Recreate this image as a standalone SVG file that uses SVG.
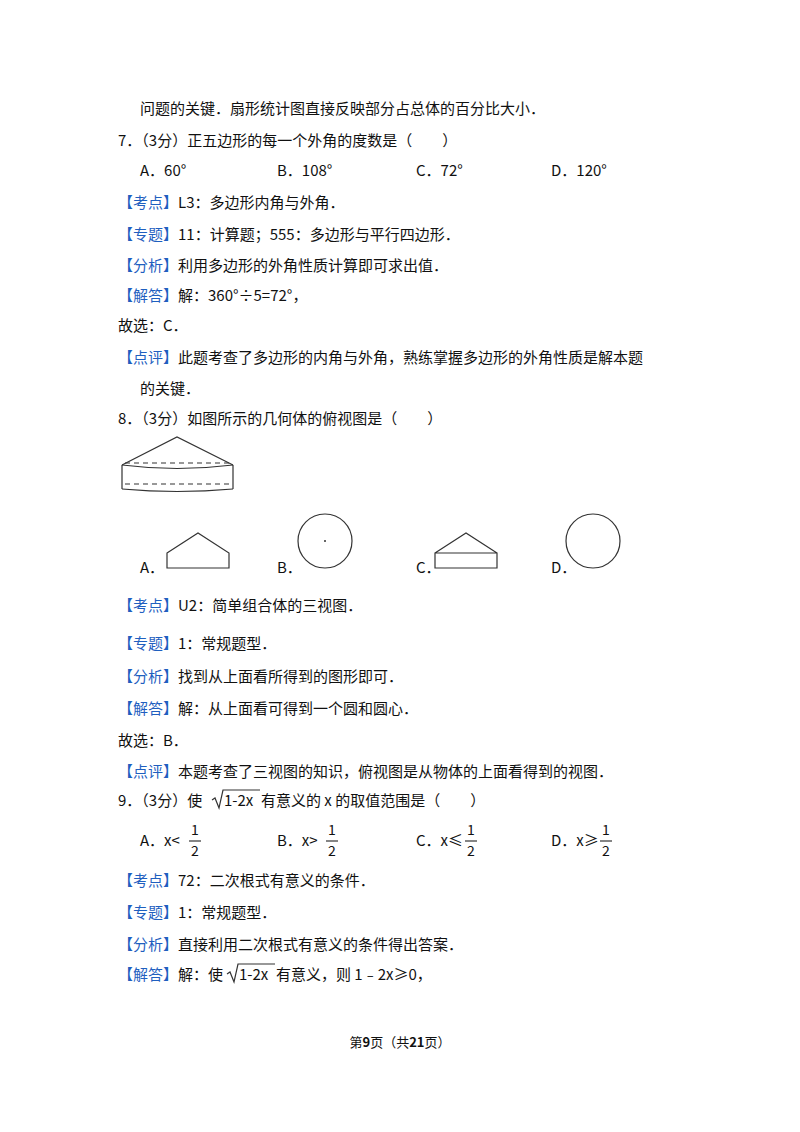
<svg xmlns="http://www.w3.org/2000/svg" width="800" height="1132" viewBox="0 0 800 1132">
<style>
text{font-family:"Noto Sans CJK SC","Noto Sans",sans-serif;font-size:15px;fill:#111}
.b{fill:#1f5fbf}
.ln{fill:none;stroke:#333;stroke-width:1.2}
.fr{font-size:14px}
</style>
<rect width="800" height="1132" fill="#fff"/>
<text x="140" y="114">问题的关键．扇形统计图直接反映部分占总体的百分比大小．</text>
<text x="118" y="146">7．（3分）正五边形的每一个外角的度数是（　　）</text>
<text x="140" y="176">A．60°</text><text x="277" y="176">B．108°</text><text x="416" y="176">C．72°</text><text x="551" y="176">D．120°</text>
<text x="118" y="208"><tspan class="b">【考点】</tspan>L3：多边形内角与外角．</text>
<text x="118" y="240"><tspan class="b">【专题】</tspan>11：计算题；555：多边形与平行四边形．</text>
<text x="118" y="271"><tspan class="b">【分析】</tspan>利用多边形的外角性质计算即可求出值．</text>
<text x="118" y="301"><tspan class="b">【解答】</tspan>解：360°÷5=72°，</text>
<text x="118" y="331">故选：C．</text>
<text x="118" y="363"><tspan class="b">【点评】</tspan>此题考查了多边形的内角与外角，熟练掌握多边形的外角性质是解本题</text>
<text x="140" y="394">的关键．</text>
<text x="118" y="424">8．（3分）如图所示的几何体的俯视图是（　　）</text>
<g id="solid">
<path class="ln" d="M122,465 L177,437 L233,465"/>
<path class="ln" d="M122,465 Q177,472 233,465"/>
<path class="ln" stroke-dasharray="5,4" d="M125,463 L231,463 M125,484 L231,484"/>
<path class="ln" stroke-width="2.2" d="M122,465 L122,489 M233,465 L233,489"/>
<path class="ln" d="M122,489 Q177,494 233,489"/>
</g>
<text x="140" y="573">A．</text><text x="277" y="573">B．</text><text x="416" y="573">C．</text><text x="551" y="573">D．</text>
<g id="optA"><path class="ln" d="M167,553 L198,533 L229,553 L229,568 L167,568 Z"/></g>
<g id="optB"><circle class="ln" cx="325" cy="541" r="27"/><circle cx="325" cy="541" r="1" fill="#333"/></g>
<g id="optC"><path class="ln" d="M435,553 L466,533 L497,553 M435,553 L497,553 L497,568 L435,568 Z"/></g>
<g id="optD"><circle class="ln" cx="593" cy="541" r="27"/></g>
<text x="118" y="611"><tspan class="b">【考点】</tspan>U2：简单组合体的三视图．</text>
<text x="118" y="649"><tspan class="b">【专题】</tspan>1：常规题型．</text>
<text x="118" y="682"><tspan class="b">【分析】</tspan>找到从上面看所得到的图形即可．</text>
<text x="118" y="714"><tspan class="b">【解答】</tspan>解：从上面看可得到一个圆和圆心．</text>
<text x="118" y="746">故选：B．</text>
<text x="118" y="777"><tspan class="b">【点评】</tspan>本题考查了三视图的知识，俯视图是从物体的上面看得到的视图．</text>
<text x="118" y="806">9．（3分）使</text>
<path class="ln" d="M212,800 L215,798 L219,808 L223,790 L260,790"/>
<text x="224" y="806">1-2x</text>
<text x="261" y="806">有意义的 x 的取值范围是（　　）</text>
<text x="140" y="846">A．x&lt;</text><text x="191" y="835" class="fr">1</text><text x="191" y="856" class="fr">2</text><path class="ln" d="M189,841 L201,841"/>
<text x="277" y="846">B．x&gt;</text><text x="328" y="835" class="fr">1</text><text x="328" y="856" class="fr">2</text><path class="ln" d="M326,841 L338,841"/>
<text x="416" y="846">C．x≤</text><text x="467" y="835" class="fr">1</text><text x="467" y="856" class="fr">2</text><path class="ln" d="M465,841 L477,841"/>
<text x="551" y="846">D．x≥</text><text x="602" y="835" class="fr">1</text><text x="602" y="856" class="fr">2</text><path class="ln" d="M600,841 L612,841"/>
<text x="118" y="886"><tspan class="b">【考点】</tspan>72：二次根式有意义的条件．</text>
<text x="118" y="918"><tspan class="b">【专题】</tspan>1：常规题型．</text>
<text x="118" y="950"><tspan class="b">【分析】</tspan>直接利用二次根式有意义的条件得出答案．</text>
<text x="118" y="980"><tspan class="b">【解答】</tspan>解：使</text>
<path class="ln" d="M227,974 L230,972 L234,982 L238,964 L275,964"/>
<text x="239" y="980">1-2x</text>
<text x="276" y="980">有意义，则 1﹣2x≥0，</text>
<text x="400" y="1047" text-anchor="middle" style="font-size:13px">第<tspan font-weight="bold">9</tspan>页（共<tspan font-weight="bold">21</tspan>页）</text>
</svg>
